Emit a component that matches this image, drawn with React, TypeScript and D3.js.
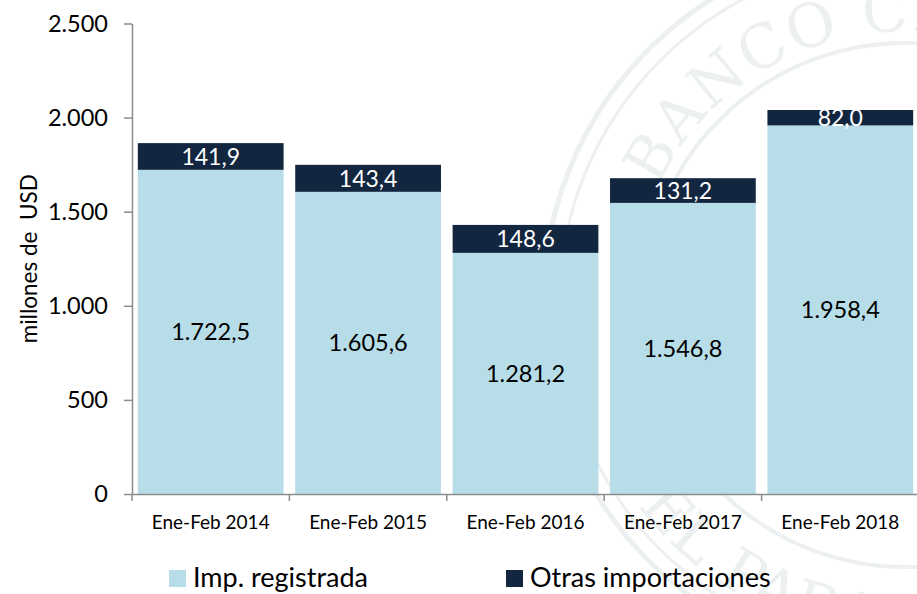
import { useEffect, useRef } from "react";
import * as d3 from "d3";

const categories = ["Ene-Feb 2014", "Ene-Feb 2015", "Ene-Feb 2016", "Ene-Feb 2017", "Ene-Feb 2018"];
const registrada = [1722.5, 1605.6, 1281.2, 1546.8, 1958.4];
const otras = [141.9, 143.4, 148.6, 131.2, 82.0];
const yTicks = [0, 500, 1000, 1500, 2000, 2500];
const seriesNames = ["Imp. registrada", "Otras importaciones"];

const LIGHT = "#b7dde8";
const DARK = "#12263f";
const FONT = "Lato, 'Open Sans', sans-serif";

export default function App() {
  const svgRef = useRef<SVGSVGElement | null>(null);

  useEffect(() => {
    if (!svgRef.current) return;
    const width = 917;
    const height = 594;
    const margin = { top: 23.5, right: -2, bottom: 100, left: 132 };

    const svg = d3.select(svgRef.current);
    svg.selectAll("*").remove();

    const locale = d3.formatLocale({ decimal: ",", thousands: ".", grouping: [3], currency: ["", ""] });
    const fmtTick = locale.format(",d");
    const fmtVal = locale.format(",.1f");

    // watermark seal (faint, behind the chart)
    const cx = 905;
    const cy = 305;
    const wmColor = "#edf0f0";
    const wm = svg.append("g").attr("fill", "none").attr("stroke", wmColor);
    [[362, 5], [346, 3], [262, 4]].forEach(([r, w]) =>
      wm.append("circle").attr("cx", cx).attr("cy", cy).attr("r", r).attr("stroke-width", w)
    );
    const pt = (r: number, a: number) => [cx + r * Math.cos((a * Math.PI) / 180), cy + r * Math.sin((a * Math.PI) / 180)];
    const defs = svg.append("defs");
    const rTop = 274;
    const [tx0, ty0] = pt(rTop, 200);
    const [tx1, ty1] = pt(rTop, 340);
    defs.append("path").attr("id", "wm-top").attr("d", `M${tx0},${ty0} A${rTop},${rTop} 0 0 1 ${tx1},${ty1}`);
    const rBot = 334;
    const [bx0, by0] = pt(rBot, 160);
    const [bx1, by1] = pt(rBot, 20);
    defs.append("path").attr("id", "wm-bot").attr("d", `M${bx0},${by0} A${rBot},${rBot} 0 0 0 ${bx1},${by1}`);
    svg.append("text").attr("fill", wmColor).attr("font-family", "'DejaVu Serif', serif").attr("font-size", 60).attr("letter-spacing", 2)
      .append("textPath").attr("href", "#wm-top").attr("startOffset", "4%").text("BANCO CENTRAL");
    svg.append("text").attr("fill", wmColor).attr("font-family", "'DejaVu Serif', serif").attr("font-size", 60).attr("letter-spacing", 2)
      .append("textPath").attr("href", "#wm-bot").attr("startOffset", "6%").text("DEL PARAGUAY");

    const x = d3
      .scaleBand<string>()
      .domain(categories)
      .range([margin.left, width - margin.right])
      .paddingInner(0.074)
      .paddingOuter(0.037);
    const step = x.step();

    const y = d3
      .scaleLinear()
      .domain([0, 2500])
      .range([height - margin.bottom, margin.top]);

    // bars
    const g = svg.append("g");
    categories.forEach((c, i) => {
      const bx = x(c)!;
      const bw = x.bandwidth();
      const base = registrada[i];
      const top = base + otras[i];
      g.append("rect").attr("x", bx).attr("y", y(base)).attr("width", bw).attr("height", y(0) - y(base)).attr("fill", LIGHT);
      g.append("rect").attr("x", bx).attr("y", y(top)).attr("width", bw).attr("height", y(base) - y(top)).attr("fill", DARK);
      g.append("text")
        .attr("x", bx + bw / 2)
        .attr("y", y(base / 2))
        .attr("dy", "0.35em")
        .attr("text-anchor", "middle")
        .attr("font-family", FONT)
        .attr("font-size", 23.5)
        .attr("fill", "#000")
        .text(fmtVal(base));
      g.append("text")
        .attr("x", bx + bw / 2)
        .attr("y", y(base + otras[i] / 2))
        .attr("dy", "0.36em")
        .attr("text-anchor", "middle")
        .attr("font-family", FONT)
        .attr("font-size", 23)
        .attr("fill", "#fff")
        .text(fmtVal(otras[i]));
    });

    // y axis
    const yAxis = svg
      .append("g")
      .attr("transform", `translate(${margin.left},0)`)
      .call(d3.axisLeft(y).tickValues(yTicks).tickSize(8).tickSizeOuter(0).tickPadding(16).tickFormat((d) => fmtTick(+d)));
    yAxis.selectAll("path, line").attr("stroke", "#8c8c8c").attr("stroke-width", 1.5);
    yAxis.selectAll("text").attr("font-family", FONT).attr("font-size", 23.5).attr("fill", "#000");

    // x axis
    const xAxis = svg
      .append("g")
      .attr("transform", `translate(0,${y(0)})`)
      .call(d3.axisBottom(x).tickSize(0).tickPadding(22));
    xAxis.select(".domain").attr("stroke", "#8c8c8c").attr("stroke-width", 1.5);
    xAxis.selectAll("text").attr("font-family", FONT).attr("font-size", 19).attr("fill", "#000");
    xAxis
      .selectAll("line.sep")
      .data(d3.range(categories.length))
      .join("line")
      .attr("class", "sep")
      .attr("x1", (i) => margin.left + i * step)
      .attr("x2", (i) => margin.left + i * step)
      .attr("y1", 0)
      .attr("y2", 7)
      .attr("stroke", "#8c8c8c")
      .attr("stroke-width", 1.5);

    // y label
    svg
      .append("text")
      .attr("transform", `translate(37,${(y(0) + y(2500)) / 2}) rotate(-90)`)
      .attr("text-anchor", "middle")
      .attr("font-family", FONT)
      .attr("font-size", 22.5)
      .attr("fill", "#000")
      .attr("xml:space", "preserve")
      .text("millones de  USD");

    // legend
    const legendX = [169, 506];
    [LIGHT, DARK].forEach((col, i) => {
      svg.append("rect").attr("x", legendX[i]).attr("y", 570).attr("width", 17).attr("height", 17).attr("fill", col);
      svg
        .append("text")
        .attr("x", legendX[i] + 24)
        .attr("y", 587)
        .attr("font-family", FONT)
        .attr("font-size", 27)
        .attr("fill", "#000")
        .text(seriesNames[i]);
    });
  }, []);

  return (
    <svg
      ref={svgRef}
      width={917}
      height={594}
      style={{ position: "absolute", left: 0, top: 0, background: "#fff" }}
    ></svg>
  );
}
